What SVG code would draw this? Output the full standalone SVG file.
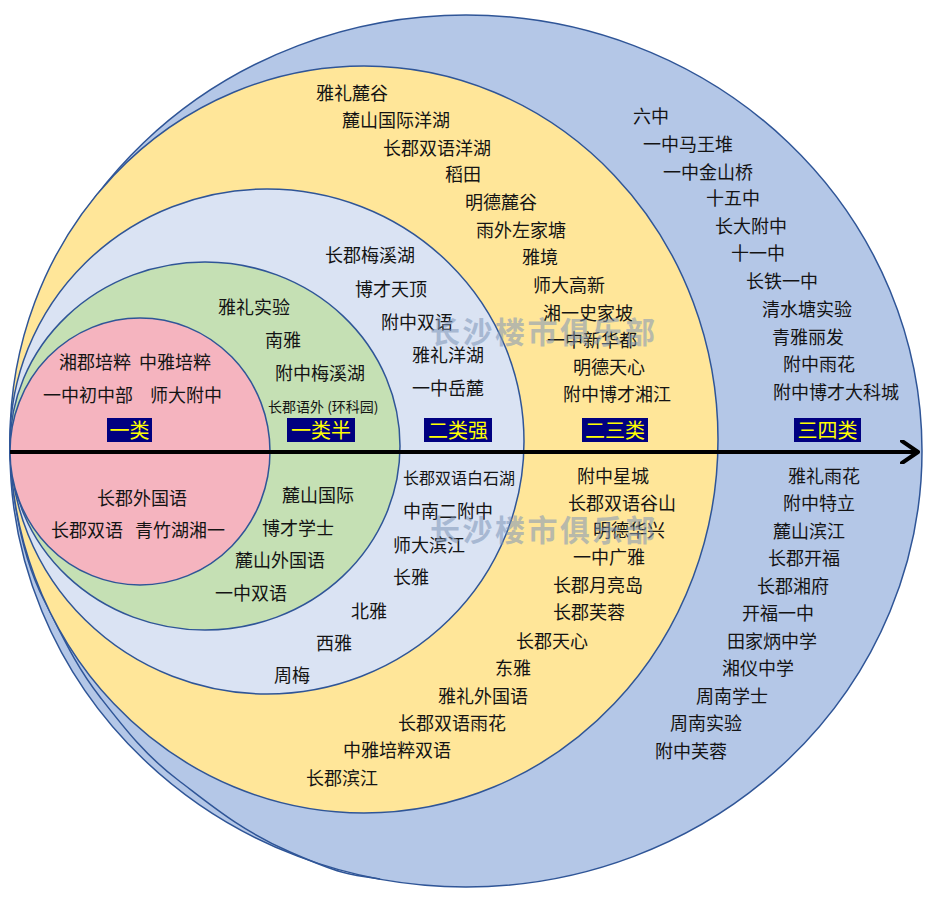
<svg xmlns="http://www.w3.org/2000/svg" width="932" height="900" viewBox="0 0 932 900">
<defs>
<style>
.ring{stroke:#2f5597;stroke-width:1.5}
.t{font-family:"Noto Sans CJK SC","Noto Sans",sans-serif;font-size:18px;fill:#141414}
.s{font-size:14px}
.m{font-size:16px}
.box{fill:#000080}
.bt{font-family:"Noto Sans CJK SC","Noto Sans",sans-serif;font-size:20px;fill:#ffff00;text-anchor:middle}
.wm{font-family:"Noto Sans CJK SC",sans-serif;font-size:30px;font-weight:bold;fill:#7f96b8;opacity:0.55;letter-spacing:2.5px}
</style>
<marker id="arr" viewBox="0 0 20 24" refX="18" refY="12" markerWidth="20" markerHeight="24" markerUnits="userSpaceOnUse" orient="auto">
<polyline points="2,1 18,12 2,23" fill="none" stroke="#000" stroke-width="4" stroke-linecap="round" stroke-linejoin="round"/>
</marker>
</defs>
<rect width="932" height="900" fill="#fff"/>

<g id="tier-34">
<ellipse class="ring" cx="466" cy="451" rx="456" ry="436" fill="#b4c7e7"/>
<path class="ring" fill="none" d="M10,452 C14,520 26,565 44,600 S75,665 100,697 S145,755 178,780 S240,830 290,852 S350,875 380,879"/>
<g class="t">
<text x="633" y="123">六中</text>
<text x="643" y="151">一中马王堆</text>
<text x="663" y="179">一中金山桥</text>
<text x="706" y="205">十五中</text>
<text x="715" y="233">长大附中</text>
<text x="731" y="260">十一中</text>
<text x="746" y="288">长铁一中</text>
<text x="762" y="316">清水塘实验</text>
<text x="772" y="344">青雅丽发</text>
<text x="783" y="371">附中雨花</text>
<text x="773" y="399">附中博才大科城</text>
<text x="788" y="483">雅礼雨花</text>
<text x="783" y="510">附中特立</text>
<text x="773" y="538">麓山滨江</text>
<text x="768" y="565">长郡开福</text>
<text x="757" y="593">长郡湘府</text>
<text x="742" y="620">开福一中</text>
<text x="727" y="648">田家炳中学</text>
<text x="722" y="675">湘仪中学</text>
<text x="696" y="703">周南学士</text>
<text x="670" y="730">周南实验</text>
<text x="655" y="758">附中芙蓉</text>
</g>
</g>

<g id="tier-23">
<ellipse class="ring" cx="364" cy="439.5" rx="354" ry="373.5" fill="#ffe699"/>
<g class="t">
<text x="316" y="100">雅礼麓谷</text>
<text x="342" y="127">麓山国际洋湖</text>
<text x="383" y="155">长郡双语洋湖</text>
<text x="445" y="181">稻田</text>
<text x="465" y="209">明德麓谷</text>
<text x="476" y="237">雨外左家塘</text>
<text x="522" y="264">雅境</text>
<text x="533" y="292">师大高新</text>
<text x="543" y="320">湘一史家坡</text>
<text x="547" y="347">一中新华都</text>
<text x="573" y="374">明德天心</text>
<text x="563" y="401">附中博才湘江</text>
<text x="577" y="483">附中星城</text>
<text x="568" y="510">长郡双语谷山</text>
<text x="593" y="537">明德华兴</text>
<text x="573" y="564">一中广雅</text>
<text x="553" y="592">长郡月亮岛</text>
<text x="553" y="619">长郡芙蓉</text>
<text x="516" y="648">长郡天心</text>
<text x="495" y="675">东雅</text>
<text x="438" y="703">雅礼外国语</text>
<text x="398" y="730">长郡双语雨花</text>
<text x="343" y="757">中雅培粹双语</text>
<text x="306" y="785">长郡滨江</text>
</g>
</g>

<g id="tier-2plus">
<ellipse class="ring" cx="267" cy="441.5" rx="257" ry="252.5" fill="#dae3f3"/>
<g class="t">
<text x="325" y="262">长郡梅溪湖</text>
<text x="355" y="296">博才天顶</text>
<text x="381" y="329">附中双语</text>
<text x="412" y="362">雅礼洋湖</text>
<text x="412" y="395">一中岳麓</text>
<text class="m" x="403" y="484">长郡双语白石湖</text>
<text x="403" y="518">中南二附中</text>
<text x="393" y="552">师大滨江</text>
<text x="393" y="584">长雅</text>
<text x="351" y="618">北雅</text>
<text x="316" y="650">西雅</text>
<text x="274" y="682">周梅</text>
</g>
</g>

<g id="tier-1half">
<ellipse class="ring" cx="205" cy="446" rx="195" ry="184" fill="#c5e0b4"/>
<g class="t">
<text x="218" y="314">雅礼实验</text>
<text x="265" y="347">南雅</text>
<text x="275" y="380">附中梅溪湖</text>
<text class="s" x="268" y="412">长郡语外 (环科园)</text>
<text x="282" y="502">麓山国际</text>
<text x="262" y="535">博才学士</text>
<text x="235" y="567">麓山外国语</text>
<text x="215" y="600">一中双语</text>
</g>
</g>

<g id="tier-1">
<ellipse class="ring" cx="140" cy="451.5" rx="130" ry="133.5" fill="#f5b4bf"/>
<g class="t">
<text x="59" y="369">湘郡培粹</text>
<text x="139" y="369">中雅培粹</text>
<text x="43" y="402">一中初中部</text>
<text x="150" y="402">师大附中</text>
<text x="97" y="505">长郡外国语</text>
<text x="51" y="537">长郡双语</text>
<text x="135" y="537">青竹湖湘一</text>
</g>
</g>

<g id="connectors">
<line x1="10" y1="452" x2="918" y2="452" stroke="#000" stroke-width="4" marker-end="url(#arr)"/>
</g>

<g id="label-1"><rect class="box" x="107" y="418" width="45" height="24"/><text class="bt" x="129.5" y="437.5">一类</text></g>
<g id="label-1half"><rect class="box" x="287" y="418" width="68" height="24"/><text class="bt" x="321" y="437.5">一类半</text></g>
<g id="label-2plus"><rect class="box" x="424" y="418" width="68" height="24"/><text class="bt" x="458" y="437.5">二类强</text></g>
<g id="label-23"><rect class="box" x="582" y="418" width="66" height="24"/><text class="bt" x="615" y="437.5">二三类</text></g>
<g id="label-34"><rect class="box" x="794" y="418" width="67" height="24"/><text class="bt" x="827.5" y="437.5">三四类</text></g>

<g id="watermark">
<text class="wm" x="430" y="343">长沙楼市俱乐部</text>
<text class="wm" x="430" y="541">长沙楼市俱乐部</text>
</g>
</svg>
